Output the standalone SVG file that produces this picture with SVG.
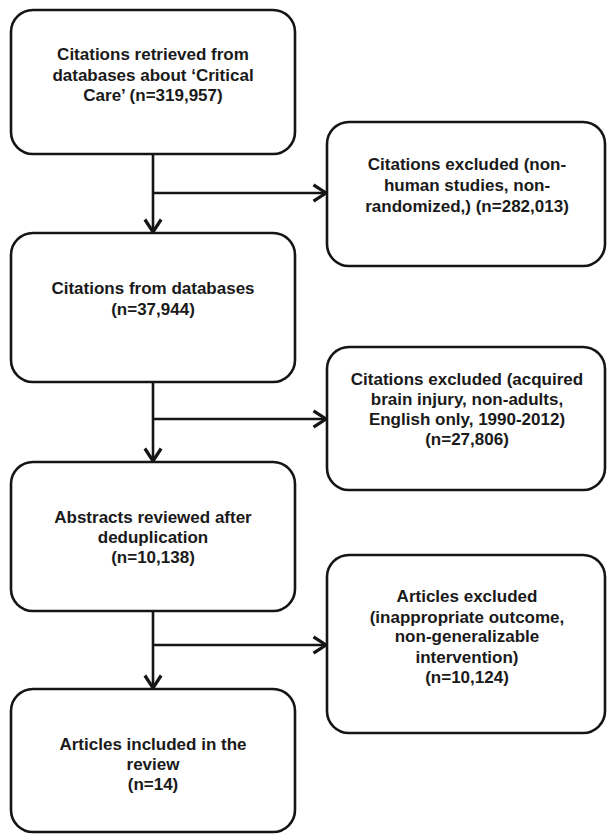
<svg xmlns="http://www.w3.org/2000/svg" width="608" height="835" viewBox="0 0 608 835">
<style>
.box{fill:#fff;stroke:#151515;stroke-width:2.6}
.t{font-family:"Liberation Sans",Arial,sans-serif;font-weight:bold;font-size:17px;fill:#1a1a1a;text-anchor:middle}
.c{fill:none;stroke:#151515;stroke-width:2.6}
</style>
<defs>
<marker id="arr" markerUnits="userSpaceOnUse" markerWidth="20" markerHeight="20" viewBox="-12 -8 14 16" refX="0" refY="0" orient="auto">
<path d="M-10,-6.5 L0,0 L-10,6.5" fill="none" stroke="#151515" stroke-width="2.6"/>
</marker>
</defs>
<rect width="608" height="835" fill="#fff"/>
<g id="connectors">
<path class="c" d="M153,154 V232" marker-end="url(#arr)"/>
<path class="c" d="M153,193 H326" marker-end="url(#arr)"/>
<path class="c" d="M153,382 V461" marker-end="url(#arr)"/>
<path class="c" d="M153,419 H326" marker-end="url(#arr)"/>
<path class="c" d="M153,611 V688" marker-end="url(#arr)"/>
<path class="c" d="M153,645 H326" marker-end="url(#arr)"/>
</g>
<g id="n1">
<rect class="box" x="11" y="10" width="284" height="144" rx="22"/>
<text class="t" x="153" y="60">Citations retrieved from</text>
<text class="t" x="153" y="81">databases about ‘Critical</text>
<text class="t" x="153" y="101">Care’ (n=319,957)</text>
</g>
<g id="n2">
<rect class="box" x="327" y="122" width="278" height="144" rx="22"/>
<text class="t" x="467" y="170">Citations excluded (non-</text>
<text class="t" x="467" y="191">human studies, non-</text>
<text class="t" x="467" y="212">randomized,) (n=282,013)</text>
</g>
<g id="n3">
<rect class="box" x="11" y="233" width="284" height="149" rx="22"/>
<text class="t" x="153" y="294">Citations from databases</text>
<text class="t" x="153" y="315">(n=37,944)</text>
</g>
<g id="n4">
<rect class="box" x="327" y="347" width="278" height="143" rx="22"/>
<text class="t" x="467" y="385">Citations excluded (acquired</text>
<text class="t" x="467" y="405">brain injury, non-adults,</text>
<text class="t" x="467" y="425">English only, 1990-2012)</text>
<text class="t" x="467" y="445">(n=27,806)</text>
</g>
<g id="n5">
<rect class="box" x="11" y="462" width="284" height="149" rx="22"/>
<text class="t" x="153" y="523">Abstracts reviewed after</text>
<text class="t" x="153" y="543">deduplication</text>
<text class="t" x="153" y="563">(n=10,138)</text>
</g>
<g id="n6">
<rect class="box" x="327" y="555" width="278" height="178" rx="22"/>
<text class="t" x="467" y="602">Articles excluded</text>
<text class="t" x="467" y="623">(inappropriate outcome,</text>
<text class="t" x="467" y="642">non-generalizable</text>
<text class="t" x="467" y="663">intervention)</text>
<text class="t" x="467" y="683">(n=10,124)</text>
</g>
<g id="n7">
<rect class="box" x="11" y="689" width="284" height="143" rx="22"/>
<text class="t" x="153" y="750">Articles included in the</text>
<text class="t" x="153" y="770">review</text>
<text class="t" x="153" y="790">(n=14)</text>
</g>
</svg>
